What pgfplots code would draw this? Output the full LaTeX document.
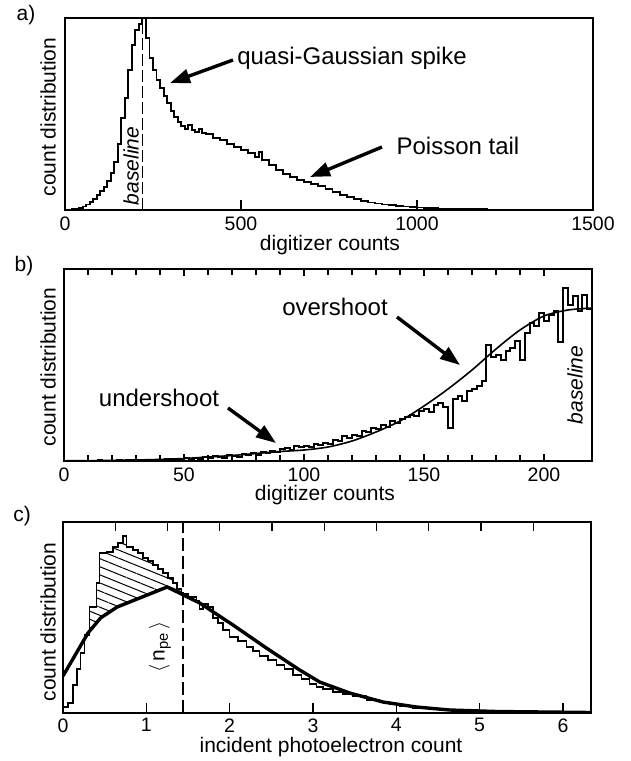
\documentclass[border=0pt]{standalone}
\usepackage{fontspec}
\setmainfont{Liberation Sans}
\usepackage{pgfplots}
\pgfplotsset{compat=1.18}
\usetikzlibrary{arrows.meta,patterns.meta}
\newcommand{\tickfont}{\fontsize{19.5}{19.5}\selectfont}
\newcommand{\labfont}{\fontsize{21}{21}\selectfont}
\newcommand{\annfont}{\fontsize{24}{24}\selectfont}
\pgfplotsset{panel/.style={
  scale only axis, width=528pt, anchor=south west,
  axis line style={line width=1.3pt},
  ymin=0, ytick=\empty,
  tick style={black, line width=1.2pt},
  tick align=inside,
  /pgf/number format/assume math mode=true,
  /pgf/number format/1000 sep={},
  xticklabel style={font=\tickfont, yshift=-3pt},
}}
\tikzset{bigarrow/.style={line width=3.4pt, -{Triangle[length=20pt,width=14pt]}}}
\begin{document}
\begin{tikzpicture}
\useasboundingbox (0,0) rectangle (631pt,-761pt);
% ---------------- panel a
\begin{axis}[panel, at={(65pt,-210pt)}, height=192pt,
  xmin=0, xmax=1500, ymax=192,
  xtick={0,500,1000,1500}, xtick pos=lower, major tick length=10pt]
\addplot[const plot, line width=1.9pt, black] coordinates {
(0,0)(10,0.5)(20,1)(30,1.5)(40,2)(50,3.5)(60,5.5)(70,8)(80,11)(90,15)(100,19)(110,23)(120,29)(130,37)(140,48)(150,66)(160,92)(170,112)(180,140)(190,165)(200,180)(210,186)(220,192)(230,172)(240,152)(250,140)(260,130)(270,122)(280,114)(290,107)(300,99)(310,93)(320,88)(330,84)(340,81)(350,85)(360,80)(370,78)(380,81)(390,77)(400,76)(420,72)(440,70)(460,66)(480,63)(500,60)(520,57)(540,53)(550,58)(560,50)(580,45)(600,40)(620,36)(640,33)(660,30)(680,28)(700,26)(720,24)(740,21)(760,18)(780,15)(800,13)(820,11)(840,9)(860,7.5)(880,6.5)(900,5.5)(920,5)(940,4)(960,3.5)(980,3)(1000,2.5)(1020,2)(1040,2)(1060,1.5)(1080,1)(1100,1)(1150,0.6)(1200,0.4)(1250,0.3)(1300,0.2)(1350,0.1)(1400,0)(1500,0)};
\addplot[black, line width=1.1pt, dash pattern=on 12pt off 4pt] coordinates {(220,0)(220,192)};
\end{axis}
% ---------------- panel b
\begin{axis}[panel, at={(64pt,-461pt)}, height=192pt,
  xmin=0, xmax=220, ymax=192,
  xtick={0,50,100,150,200}, minor x tick num=4, xtick pos=both,
  major tick length=7pt, minor tick length=6pt]
\addplot[const plot, line width=2pt, black] coordinates {
(0,0.3)(2,0)(4,0.3)(6,0)(8,0.5)(10,0)(12,0.3)(14,0.6)(16,0)(18,0.4)(20,0.5)(22,0.8)(24,0.3)(26,0.6)(28,1)(30,0.5)(32,1.2)(34,0.8)(36,1)(38,1.5)(40,1.2)(42,2)(44,1.5)(46,2.5)(48,1.8)(50,3)(52,2)(54,3.5)(56,2.5)(58,4)(60,3)(62,5)(64,4)(66,3.5)(68,6)(70,5)(72,4.5)(74,7)(76,6)(78,8)(80,6.5)(82,9)(84,8)(86,10)(88,9)(90,12)(92,13)(94,11)(96,15)(98,14)(100,15)(102,14)(104,17)(106,16)(108,18)(110,17)(112,21)(114,20)(116,25)(118,23)(120,26)(122,25)(124,30)(126,29)(128,33)(130,32)(132,36)(134,34)(136,40)(138,38)(140,42)(142,44)(144,46)(146,45)(148,50)(150,52)(152,49)(154,56)(156,58)(158,54)(160,33)(162,62)(164,65)(166,60)(168,70)(170,72)(172,75)(174,80)(176,116)(178,104)(180,106)(182,101)(184,110)(186,113)(188,120)(190,101)(192,128)(194,138)(196,135)(198,148)(200,140)(202,146)(204,150)(206,119)(208,173)(210,156)(212,165)(214,150)(216,166)(218,152)(220,152)};
\addplot[smooth, line width=1.6pt, black] coordinates {
(0,0.2)(10,0.3)(20,0.6)(30,1)(40,1.6)(50,2.5)(60,4)(70,5.5)(80,7.5)(90,9.5)(100,11)(110,14)(120,20)(130,29)(140,40)(150,55)(160,72)(170,91)(180,112)(190,131)(200,145)(210,151)(220,153)};
\end{axis}
% ---------------- panel c
\begin{axis}[panel, at={(63pt,-713pt)}, height=191pt,
  xmin=0, xmax=6.336, ymax=191,
  xtick={0,1,2,3,4,5,6}, xtick pos=lower, major tick length=10pt,
  xticklabel style={yshift=1pt}]
\addplot[pattern={Lines[angle=-22,distance=7.5pt,line width=1pt]}, draw=none] coordinates {
(0.28,77)(0.28,78)(0.32,78)(0.32,106)(0.40,106)(0.40,130)(0.44,130)(0.44,160)(0.52,160)(0.52,161)(0.6,161)(0.6,166)(0.66,166)(0.66,170)(0.72,170)(0.72,177)(0.76,177)(0.76,166)(0.84,166)(0.84,163)(0.9,163)(0.9,160)(0.96,160)(0.96,155)(1.02,155)(1.02,152)(1.08,152)(1.08,148)(1.14,148)(1.14,144)(1.2,144)(1.2,140)(1.26,140)(1.26,135)(1.32,135)(1.32,130)(1.37,130)(1.37,124)(1.42,124)(1.42,119)(1.44,119)(1.44,118.2)(1.25,126)(0.65,106)(0.45,95)(0.3,80)(0.28,77)};
\addplot[const plot, line width=1.4pt, black] coordinates {
(0,6)(0.06,10)(0.12,28)(0.17,44)(0.21,60)(0.26,78)(0.32,106)(0.40,130)(0.44,160)(0.52,161)(0.6,166)(0.66,170)(0.72,177)(0.76,166)(0.84,163)(0.9,160)(0.96,155)(1.02,152)(1.08,148)(1.14,144)(1.2,140)(1.26,135)(1.32,130)(1.37,124)(1.42,119)(1.5,116)(1.6,112)(1.64,104)(1.68,109)(1.74,106)(1.8,95)(1.86,90)(1.92,83)(2.0,76)(2.1,72)(2.2,66)(2.28,62)(2.36,57)(2.46,53)(2.56,48)(2.66,44)(2.76,38)(2.86,34)(2.96,29)(3.04,26)(3.12,24)(3.24,21)(3.36,19)(3.48,17)(3.64,13)(3.8,11)(3.92,9)(4.04,7)(4.2,5)(4.4,3.5)(4.6,2.5)(4.8,2)(5.0,1.5)(5.3,1)(5.6,0.5)(6.0,0.3)(6.336,0.3)};
\addplot[line width=3.4pt, black] coordinates {
(0,37)(0.3,80)(0.45,95)(0.65,106)(1.25,126)(1.64,110)(2.04,88)(2.44,65)(2.84,43)(3.08,31)(3.44,20)(3.84,11)(4.24,6)(4.64,3)(5.2,1.5)(6.336,0.5)};
\addplot[black, line width=1.1pt, dash pattern=on 13pt off 5pt] coordinates {(1.44,0)(1.44,191)};
\addplot[black, line width=1.2pt] coordinates {(0.627,191)(0.627,182)};
\addplot[black, line width=1.2pt] coordinates {(1.254,191)(1.254,182)};
\addplot[black, line width=1.2pt] coordinates {(1.881,191)(1.881,182)};
\addplot[black, line width=1.2pt] coordinates {(2.508,191)(2.508,182)};
\addplot[black, line width=1.2pt] coordinates {(3.135,191)(3.135,182)};
\addplot[black, line width=1.2pt] coordinates {(3.762,191)(3.762,182)};
\addplot[black, line width=1.2pt] coordinates {(4.389,191)(4.389,182)};
\addplot[black, line width=1.2pt] coordinates {(5.016,191)(5.016,182)};
\addplot[black, line width=1.2pt] coordinates {(5.643,191)(5.643,182)};
\end{axis}
% ---------------- text
\node[font=\labfont] at (26pt,-15pt) {a)};
\node[font=\labfont] at (24pt,-266pt) {b)};
\node[font=\labfont] at (22pt,-516pt) {c)};
\node[font=\labfont, rotate=90] at (48pt,-117pt) {count distribution};
\node[font=\labfont, rotate=90] at (48pt,-367pt) {count distribution};
\node[font=\labfont, rotate=90] at (48pt,-622pt) {count distribution};
\node[font=\labfont] at (330pt,-245pt) {digitizer counts};
\node[font=\labfont] at (325pt,-495pt) {digitizer counts};
\node[font=\labfont] at (331pt,-747pt) {incident photoelectron count};
\node[font=\annfont] at (352pt,-58pt) {quasi-Gaussian spike};
\node[font=\annfont] at (458pt,-146pt) {Poisson tail};
\node[font=\annfont] at (335pt,-307pt) {overshoot};
\node[font=\annfont] at (159pt,-398pt) {undershoot};
\node[font=\labfont\itshape, rotate=90] at (131pt,-166pt) {baseline};
\node[font=\labfont\itshape, rotate=90] at (575pt,-385pt) {baseline};
\node[font=\labfont, rotate=90] at (160pt,-647pt) {$\bigg\langle$\,n\textsubscript{pe}\,$\bigg\rangle$};
\draw[bigarrow] (233pt,-60pt) -- (170pt,-83pt);
\draw[bigarrow] (382pt,-147pt) -- (310pt,-177pt);
\draw[bigarrow] (397pt,-317pt) -- (460pt,-365pt);
\draw[bigarrow] (228pt,-408pt) -- (276pt,-443pt);
\end{tikzpicture}
\end{document}
